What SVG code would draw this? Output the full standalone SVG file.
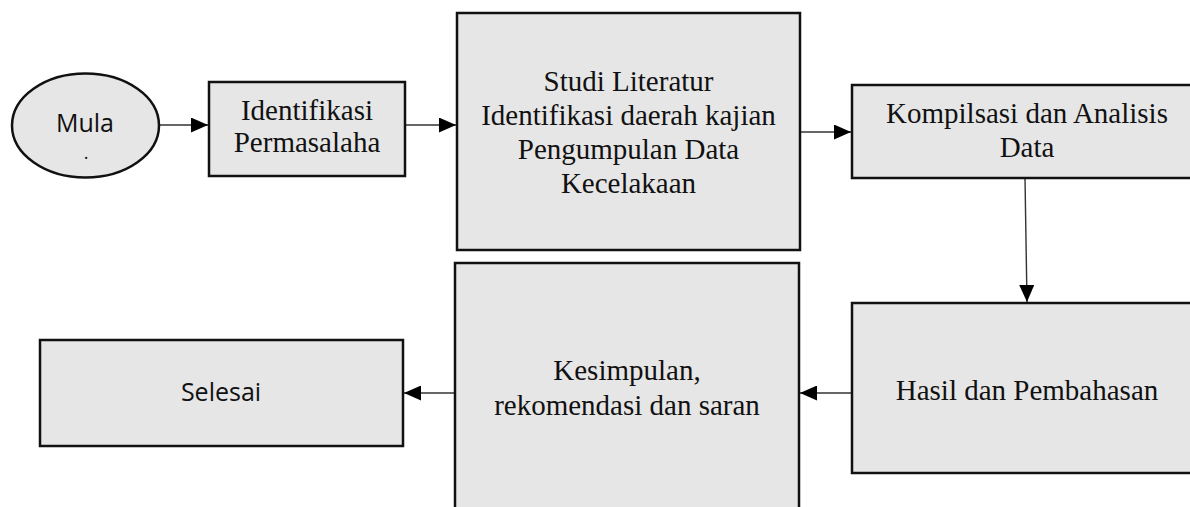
<svg xmlns="http://www.w3.org/2000/svg" width="1190" height="507" viewBox="0 0 1190 507">
<style>
.box{fill:#e6e6e6;stroke:#111;stroke-width:2.5}
.serif{font-family:"Liberation Serif","Times New Roman",serif;font-size:29px;fill:#111;text-anchor:middle}
.sans{font-family:"Open Sans","Liberation Sans",sans-serif;font-size:25px;fill:#111;text-anchor:middle}
.conn{stroke:#333;stroke-width:1.4;fill:none;marker-end:url(#ah)}
</style>
<defs>
<marker id="ah" markerUnits="userSpaceOnUse" markerWidth="17" markerHeight="15" refX="17" refY="7.5" orient="auto">
<path d="M0,0 L17,7.5 L0,15 z" fill="#000"/>
</marker>
</defs>
<rect width="1190" height="507" fill="#fff"/>
<g id="connectors">
<line class="conn" x1="159" y1="125" x2="208" y2="125"/>
<line class="conn" x1="405" y1="125" x2="456" y2="125"/>
<line class="conn" x1="800" y1="132" x2="851" y2="132"/>
<line class="conn" x1="1025" y1="178" x2="1027" y2="302"/>
<line class="conn" x1="851" y1="393" x2="800" y2="393"/>
<line class="conn" x1="455" y1="393" x2="404" y2="393"/>
</g>
<g id="mula">
<ellipse cx="85.5" cy="125.5" rx="73.5" ry="52" class="box"/>
<text class="sans" x="85" y="132">Mula</text>
<text class="sans" x="86" y="159" style="font-size:18px">.</text>
</g>
<g id="identifikasi">
<rect class="box" x="209" y="82" width="196" height="94"/>
<text class="serif" x="307" y="120">Identifikasi</text>
<text class="serif" x="307" y="152">Permasalaha</text>
</g>
<g id="studi">
<rect class="box" x="457" y="13" width="343" height="237"/>
<text class="serif" x="628.5" y="91">Studi Literatur</text>
<text class="serif" x="628.5" y="125">Identifikasi daerah kajian</text>
<text class="serif" x="628.5" y="159">Pengumpulan Data</text>
<text class="serif" x="628.5" y="193">Kecelakaan</text>
</g>
<g id="kompilasi">
<rect class="box" x="852" y="85" width="350" height="93"/>
<text class="serif" x="1027" y="123">Kompilsasi dan Analisis</text>
<text class="serif" x="1027" y="157">Data</text>
</g>
<g id="hasil">
<rect class="box" x="852" y="303" width="350" height="170"/>
<text class="serif" x="1027" y="400">Hasil dan Pembahasan</text>
</g>
<g id="kesimpulan">
<rect class="box" x="455" y="263" width="344" height="260"/>
<text class="serif" x="627" y="380">Kesimpulan,</text>
<text class="serif" x="627" y="415">rekomendasi dan saran</text>
</g>
<g id="selesai">
<rect class="box" x="40" y="340" width="363" height="106"/>
<text class="sans" x="221" y="401">Selesai</text>
</g>
</svg>
